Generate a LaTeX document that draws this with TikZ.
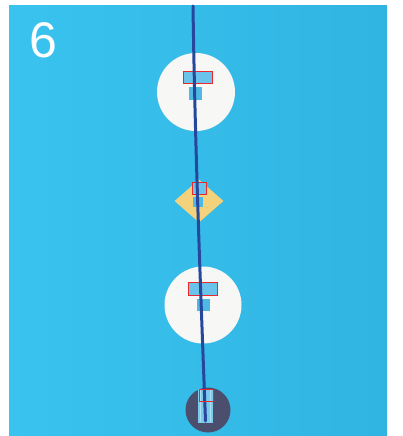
\documentclass[tikz,border=0pt]{standalone}
\usepackage{fontspec}
\setmainfont{Liberation Sans}
\usetikzlibrary{shapes.geometric}
\definecolor{skyA}{HTML}{3AC3EF}
\definecolor{skyB}{HTML}{30B4E2}
\definecolor{discW}{HTML}{F7F7F5}
\definecolor{diaY}{HTML}{F4D27C}
\definecolor{darkD}{HTML}{4B4E6C}
\definecolor{lineB}{HTML}{27479C}
\definecolor{sqB}{HTML}{4FB9E6}
\definecolor{mark}{HTML}{E8282B}
\tikzset{
  disc/.style={circle, fill=discW, draw=none, minimum size=#1, inner sep=0pt},
  sq/.style={rectangle, fill=sqB, draw=none, minimum width=12pt, minimum height=12pt, inner sep=0pt},
  redbox/.style={rectangle, fill=sqB!85!white, draw=mark, line width=0.6pt, inner sep=0pt},
  route/.style={draw=lineB, line width=3pt, line cap=round}
}
\begin{document}
\begin{tikzpicture}[x=1pt,y=-1pt]
\useasboundingbox (0,0) rectangle (403,436);
\shade[left color=skyA, right color=skyB] (9,6) rectangle (387,436);
\node[text=white, font=\fontsize{50}{50}\selectfont, anchor=center, inner sep=0pt] (num) at (43.5,40) {6};
% stops
\node[disc=78pt] (c1) at (196,92) {};
\node[diamond, fill=diaY, minimum width=49pt, minimum height=43pt, inner sep=0pt] (d1) at (199,201) {};
\node[disc=77pt] (c2) at (203,305) {};
\node[circle, fill=darkD, minimum size=45pt, inner sep=0pt] (c3) at (208,410) {};
% small squares
\node[sq, minimum width=13pt, minimum height=13pt] (s1) at (195.5,93.5) {};
\node[sq, minimum width=10pt, minimum height=10pt] (s2) at (198,202) {};
\node[sq, minimum width=13pt, minimum height=12pt] (s3) at (203.5,305) {};
\node[rectangle, fill=sqB!75!white, minimum width=15pt, minimum height=34pt, inner sep=0pt] (s4) at (205.5,406) {};
\foreach \xx in {200.5,210.5} \draw[white!55!sqB, line width=0.8pt] (\xx,390) -- (\xx,422);
% red markers
\node[redbox, minimum width=29pt, minimum height=12pt] (r1) at (198,77.5) {};
\node[redbox, minimum width=14pt, minimum height=12pt] (r2) at (199.5,188) {};
\node[redbox, minimum width=29pt, minimum height=13pt] (r3) at (203,289) {};
% route
\coordinate (top) at (193,6);
\coordinate (bot) at (205.5,421);
\draw[route] (top) .. controls (195,150) and (201,300) .. (bot);
\node[redbox, fill=none, minimum width=14pt, minimum height=12pt] (r4) at (206,395.5) {};
\end{tikzpicture}
\end{document}
